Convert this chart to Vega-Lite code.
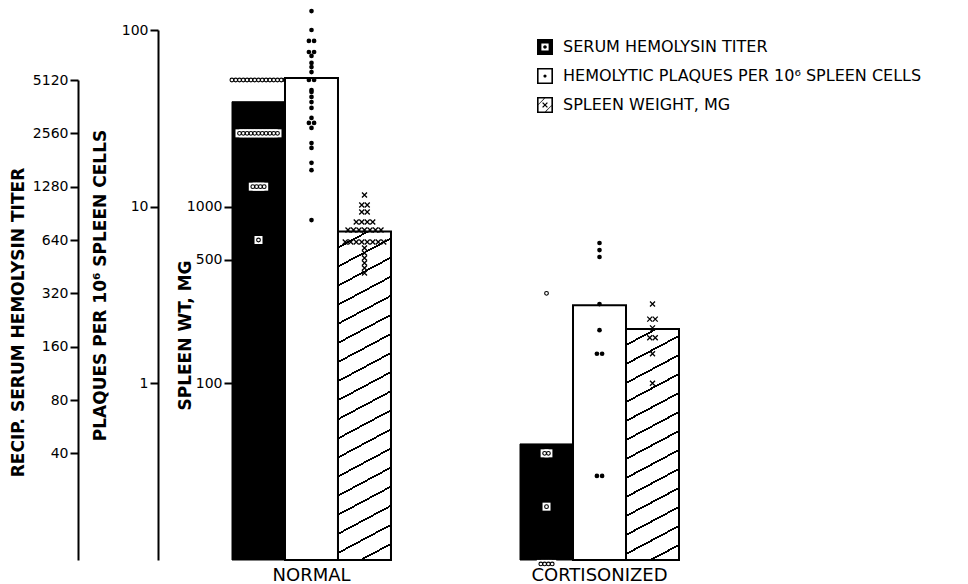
{
  "$schema": "https://vega.github.io/schema/vega-lite/v6.json",
  "width": 447,
  "height": 530,
  "autosize": {"type": "none"},
  "padding": {"left": 232, "top": 30, "right": 289, "bottom": 24},
  "background": "white",
  "config": {
    "view": {"stroke": null},
    "axis": {"grid": false, "domainColor": "black", "domainWidth": 2, "tickColor": "black", "tickWidth": 2, "labelColor": "black", "titleColor": "black", "labelFont": "DejaVu Sans", "titleFont": "DejaVu Sans", "labelFontSize": 14, "titleFontSize": 17, "titleFontWeight": "bold"},
    "legend": {"labelFont": "DejaVu Sans", "labelColor": "black"}
  },
  "datasets": {
    "means": [
      {"group": "NORMAL", "series": "SERUM HEMOLYSIN TITER", "value": 3860},
      {"group": "NORMAL", "series": "HEMOLYTIC PLAQUES PER 10⁶ SPLEEN CELLS", "value": 53.5},
      {"group": "NORMAL", "series": "SPLEEN WEIGHT, MG", "value": 724},
      {"group": "CORTISONIZED", "series": "SERUM HEMOLYSIN TITER", "value": 45.2},
      {"group": "CORTISONIZED", "series": "HEMOLYTIC PLAQUES PER 10⁶ SPLEEN CELLS", "value": 2.77},
      {"group": "CORTISONIZED", "series": "SPLEEN WEIGHT, MG", "value": 203}
    ],
    "titer_obs": [
      {"group": "NORMAL", "value": 5120}, {"group": "NORMAL", "value": 5120}, {"group": "NORMAL", "value": 5120},
      {"group": "NORMAL", "value": 5120}, {"group": "NORMAL", "value": 5120}, {"group": "NORMAL", "value": 5120},
      {"group": "NORMAL", "value": 5120}, {"group": "NORMAL", "value": 5120}, {"group": "NORMAL", "value": 5120},
      {"group": "NORMAL", "value": 5120}, {"group": "NORMAL", "value": 5120}, {"group": "NORMAL", "value": 5120},
      {"group": "NORMAL", "value": 5120}, {"group": "NORMAL", "value": 5120}, {"group": "NORMAL", "value": 5120},
      {"group": "NORMAL", "value": 2560}, {"group": "NORMAL", "value": 2560}, {"group": "NORMAL", "value": 2560},
      {"group": "NORMAL", "value": 2560}, {"group": "NORMAL", "value": 2560}, {"group": "NORMAL", "value": 2560},
      {"group": "NORMAL", "value": 2560}, {"group": "NORMAL", "value": 2560}, {"group": "NORMAL", "value": 2560},
      {"group": "NORMAL", "value": 2560}, {"group": "NORMAL", "value": 2560},
      {"group": "NORMAL", "value": 1280}, {"group": "NORMAL", "value": 1280}, {"group": "NORMAL", "value": 1280}, {"group": "NORMAL", "value": 1280},
      {"group": "NORMAL", "value": 640},
      {"group": "CORTISONIZED", "value": 320},
      {"group": "CORTISONIZED", "value": 40}, {"group": "CORTISONIZED", "value": 40},
      {"group": "CORTISONIZED", "value": 20},
      {"group": "CORTISONIZED", "value": 9.5}, {"group": "CORTISONIZED", "value": 9.5}, {"group": "CORTISONIZED", "value": 9.5}, {"group": "CORTISONIZED", "value": 9.5}
    ],
    "plaque_obs": [
      {"group": "NORMAL", "value": 128}, {"group": "NORMAL", "value": 100},
      {"group": "NORMAL", "value": 86.7}, {"group": "NORMAL", "value": 86.7},
      {"group": "NORMAL", "value": 75.1}, {"group": "NORMAL", "value": 75.1},
      {"group": "NORMAL", "value": 71.3}, {"group": "NORMAL", "value": 65.1}, {"group": "NORMAL", "value": 61.7},
      {"group": "NORMAL", "value": 57.8}, {"group": "NORMAL", "value": 52.1}, {"group": "NORMAL", "value": 52.1},
      {"group": "NORMAL", "value": 45.7}, {"group": "NORMAL", "value": 44.6}, {"group": "NORMAL", "value": 41.8},
      {"group": "NORMAL", "value": 39.1}, {"group": "NORMAL", "value": 36.2}, {"group": "NORMAL", "value": 31.8},
      {"group": "NORMAL", "value": 29.8}, {"group": "NORMAL", "value": 29.8}, {"group": "NORMAL", "value": 27.9},
      {"group": "NORMAL", "value": 22.9}, {"group": "NORMAL", "value": 21.5}, {"group": "NORMAL", "value": 17.7},
      {"group": "NORMAL", "value": 16.1}, {"group": "NORMAL", "value": 8.4},
      {"group": "CORTISONIZED", "value": 6.23}, {"group": "CORTISONIZED", "value": 5.68}, {"group": "CORTISONIZED", "value": 5.19},
      {"group": "CORTISONIZED", "value": 2.81}, {"group": "CORTISONIZED", "value": 2.0},
      {"group": "CORTISONIZED", "value": 1.47}, {"group": "CORTISONIZED", "value": 1.47},
      {"group": "CORTISONIZED", "value": 0.299}, {"group": "CORTISONIZED", "value": 0.299}
    ],
    "spleen_obs": [
      {"group": "NORMAL", "value": 1164},
      {"group": "NORMAL", "value": 1021}, {"group": "NORMAL", "value": 1021},
      {"group": "NORMAL", "value": 933}, {"group": "NORMAL", "value": 933},
      {"group": "NORMAL", "value": 819}, {"group": "NORMAL", "value": 819}, {"group": "NORMAL", "value": 819}, {"group": "NORMAL", "value": 819},
      {"group": "NORMAL", "value": 738}, {"group": "NORMAL", "value": 738}, {"group": "NORMAL", "value": 738}, {"group": "NORMAL", "value": 738},
      {"group": "NORMAL", "value": 738}, {"group": "NORMAL", "value": 738}, {"group": "NORMAL", "value": 738},
      {"group": "NORMAL", "value": 631}, {"group": "NORMAL", "value": 631}, {"group": "NORMAL", "value": 631}, {"group": "NORMAL", "value": 631},
      {"group": "NORMAL", "value": 631}, {"group": "NORMAL", "value": 631}, {"group": "NORMAL", "value": 631}, {"group": "NORMAL", "value": 631},
      {"group": "NORMAL", "value": 583}, {"group": "NORMAL", "value": 547}, {"group": "NORMAL", "value": 512},
      {"group": "NORMAL", "value": 480}, {"group": "NORMAL", "value": 450}, {"group": "NORMAL", "value": 421},
      {"group": "CORTISONIZED", "value": 281},
      {"group": "CORTISONIZED", "value": 231}, {"group": "CORTISONIZED", "value": 231},
      {"group": "CORTISONIZED", "value": 206},
      {"group": "CORTISONIZED", "value": 181}, {"group": "CORTISONIZED", "value": 181},
      {"group": "CORTISONIZED", "value": 147},
      {"group": "CORTISONIZED", "value": 100}
    ]
  },
  "layer": [
    {
      "layer": [
        {
          "data": {"name": "means"},
          "transform": [{"filter": {"field": "series", "equal": "SERUM HEMOLYSIN TITER"}}],
          "mark": {"type": "bar", "fill": "black", "stroke": "black", "strokeWidth": 1},
          "encoding": {
            "x": {"field": "group", "type": "nominal", "scale": {"domain": ["NORMAL", "CORTISONIZED"], "paddingInner": 0.448, "paddingOuter": 0},
                  "axis": {"orient": "bottom", "title": null, "domain": false, "ticks": false, "tickSize": 0, "labelPadding": 6, "labelFontSize": 18, "labelAngle": 0, "labelFontWeight": "normal"}},
            "xOffset": {"field": "series", "type": "nominal", "scale": {"domain": ["SERUM HEMOLYSIN TITER", "HEMOLYTIC PLAQUES PER 10⁶ SPLEEN CELLS", "SPLEEN WEIGHT, MG"], "paddingInner": 0, "paddingOuter": 0}},
            "y": {"field": "value", "type": "quantitative", "scale": {"type": "log", "base": 2, "domain": [10, 5120], "range": [530, 50], "nice": false},
                  "axis": {"orient": "left", "offset": 154, "values": [40, 80, 160, 320, 640, 1280, 2560, 5120], "format": "d", "tickSize": 8, "labelPadding": 2,
                           "title": "RECIP. SERUM HEMOLYSIN TITER", "titleX": -60, "titleY": 292, "titleAngle": 270, "titleBaseline": "middle", "titleAlign": "center"}},
            "y2": {"datum": 10}
          }
        },
        {
          "data": {"name": "titer_obs"},
          "transform": [
            {"window": [{"op": "count", "as": "one"}], "frame": [0, 0]},
            {"stack": "one", "groupby": ["group", "value"], "offset": "center", "as": ["s0", "s1"]}
          ],
          "encoding": {
            "x": {"field": "group", "type": "nominal", "scale": {"domain": ["NORMAL", "CORTISONIZED"], "paddingInner": 0.448, "paddingOuter": 0}},
            "xOffset": {"field": "s0", "type": "quantitative", "scale": {"domain": [0.026, 41.868], "zero": false, "nice": false}},
            "y": {"field": "value", "type": "quantitative", "scale": {"type": "log", "base": 2, "domain": [10, 5120], "range": [530, 50], "nice": false}}
          },
          "layer": [
            {"mark": {"type": "point", "shape": "square", "filled": true, "fill": "white", "strokeWidth": 0, "size": 64, "opacity": 1}},
            {"mark": {"type": "point", "shape": "circle", "filled": false, "stroke": "black", "strokeWidth": 1.1, "size": 14, "opacity": 1}}
          ]
        }
      ],
      "resolve": {"scale": {"xOffset": "independent"}}
    },
    {
      "layer": [
        {
          "data": {"name": "means"},
          "transform": [{"filter": {"field": "series", "equal": "HEMOLYTIC PLAQUES PER 10⁶ SPLEEN CELLS"}}],
          "mark": {"type": "bar", "fill": "white", "stroke": "black", "strokeWidth": 2},
          "encoding": {
            "x": {"field": "group", "type": "nominal", "scale": {"domain": ["NORMAL", "CORTISONIZED"], "paddingInner": 0.448, "paddingOuter": 0}},
            "xOffset": {"field": "series", "type": "nominal", "scale": {"domain": ["SERUM HEMOLYSIN TITER", "HEMOLYTIC PLAQUES PER 10⁶ SPLEEN CELLS", "SPLEEN WEIGHT, MG"], "paddingInner": 0, "paddingOuter": 0}},
            "y": {"field": "value", "type": "quantitative", "scale": {"type": "log", "domain": [0.1, 100], "nice": false},
                  "axis": {"orient": "left", "offset": 74, "values": [1, 10, 100], "format": "d", "tickSize": 8, "labelPadding": 2,
                           "title": "PLAQUES PER 10⁶ SPLEEN CELLS", "titleX": -58, "titleY": 255, "titleAngle": 270, "titleBaseline": "middle", "titleAlign": "center"}},
            "y2": {"datum": 0.1}
          }
        },
        {
          "data": {"name": "plaque_obs"},
          "transform": [
            {"window": [{"op": "count", "as": "one"}], "frame": [0, 0]},
            {"stack": "one", "groupby": ["group", "value"], "offset": "center", "as": ["s0", "s1"]}
          ],
          "mark": {"type": "circle", "size": 22, "color": "black", "opacity": 1},
          "encoding": {
            "x": {"field": "group", "type": "nominal", "scale": {"domain": ["NORMAL", "CORTISONIZED"], "paddingInner": 0.448, "paddingOuter": 0}},
            "xOffset": {"field": "s0", "type": "quantitative", "scale": {"domain": [-14.788, 15.789], "zero": false, "nice": false}},
            "y": {"field": "value", "type": "quantitative", "scale": {"type": "log", "domain": [0.1, 100], "nice": false}}
          }
        }
      ],
      "resolve": {"scale": {"xOffset": "independent"}}
    },
    {
      "layer": [
        {
          "data": {"name": "means"},
          "transform": [{"filter": "datum.series === 'SPLEEN WEIGHT, MG' && datum.group === 'NORMAL'"}],
          "mark": {"type": "bar", "stroke": "black", "strokeWidth": 2,
                   "fill": {"gradient": "linear", "x1": 0, "y1": 0, "x2": 0.0926, "y2": 1.0779, "stops": [
                     {"offset": 0.0423, "color": "#fff"}, {"offset": 0.0423, "color": "#000"}, {"offset": 0.0479, "color": "#000"}, {"offset": 0.0479, "color": "#fff"},
                     {"offset": 0.0958, "color": "#fff"}, {"offset": 0.0958, "color": "#000"}, {"offset": 0.1014, "color": "#000"}, {"offset": 0.1014, "color": "#fff"},
                     {"offset": 0.1493, "color": "#fff"}, {"offset": 0.1493, "color": "#000"}, {"offset": 0.1549, "color": "#000"}, {"offset": 0.1549, "color": "#fff"},
                     {"offset": 0.2028, "color": "#fff"}, {"offset": 0.2028, "color": "#000"}, {"offset": 0.2084, "color": "#000"}, {"offset": 0.2084, "color": "#fff"},
                     {"offset": 0.2563, "color": "#fff"}, {"offset": 0.2563, "color": "#000"}, {"offset": 0.2619, "color": "#000"}, {"offset": 0.2619, "color": "#fff"},
                     {"offset": 0.3099, "color": "#fff"}, {"offset": 0.3099, "color": "#000"}, {"offset": 0.3155, "color": "#000"}, {"offset": 0.3155, "color": "#fff"},
                     {"offset": 0.3634, "color": "#fff"}, {"offset": 0.3634, "color": "#000"}, {"offset": 0.3690, "color": "#000"}, {"offset": 0.3690, "color": "#fff"},
                     {"offset": 0.4169, "color": "#fff"}, {"offset": 0.4169, "color": "#000"}, {"offset": 0.4225, "color": "#000"}, {"offset": 0.4225, "color": "#fff"},
                     {"offset": 0.4704, "color": "#fff"}, {"offset": 0.4704, "color": "#000"}, {"offset": 0.4760, "color": "#000"}, {"offset": 0.4760, "color": "#fff"},
                     {"offset": 0.5239, "color": "#fff"}, {"offset": 0.5239, "color": "#000"}, {"offset": 0.5295, "color": "#000"}, {"offset": 0.5295, "color": "#fff"},
                     {"offset": 0.5774, "color": "#fff"}, {"offset": 0.5774, "color": "#000"}, {"offset": 0.5830, "color": "#000"}, {"offset": 0.5830, "color": "#fff"},
                     {"offset": 0.6309, "color": "#fff"}, {"offset": 0.6309, "color": "#000"}, {"offset": 0.6365, "color": "#000"}, {"offset": 0.6365, "color": "#fff"},
                     {"offset": 0.6844, "color": "#fff"}, {"offset": 0.6844, "color": "#000"}, {"offset": 0.6900, "color": "#000"}, {"offset": 0.6900, "color": "#fff"},
                     {"offset": 0.7379, "color": "#fff"}, {"offset": 0.7379, "color": "#000"}, {"offset": 0.7435, "color": "#000"}, {"offset": 0.7435, "color": "#fff"},
                     {"offset": 0.7914, "color": "#fff"}, {"offset": 0.7914, "color": "#000"}, {"offset": 0.7970, "color": "#000"}, {"offset": 0.7970, "color": "#fff"},
                     {"offset": 0.8450, "color": "#fff"}, {"offset": 0.8450, "color": "#000"}, {"offset": 0.8506, "color": "#000"}, {"offset": 0.8506, "color": "#fff"},
                     {"offset": 0.8985, "color": "#fff"}, {"offset": 0.8985, "color": "#000"}, {"offset": 0.9041, "color": "#000"}, {"offset": 0.9041, "color": "#fff"},
                     {"offset": 0.9520, "color": "#fff"}, {"offset": 0.9520, "color": "#000"}, {"offset": 0.9576, "color": "#000"}, {"offset": 0.9576, "color": "#fff"}
                   ]}},
          "encoding": {
            "x": {"field": "group", "type": "nominal", "scale": {"domain": ["NORMAL", "CORTISONIZED"], "paddingInner": 0.448, "paddingOuter": 0}},
            "xOffset": {"field": "series", "type": "nominal", "scale": {"domain": ["SERUM HEMOLYSIN TITER", "HEMOLYTIC PLAQUES PER 10⁶ SPLEEN CELLS", "SPLEEN WEIGHT, MG"], "paddingInner": 0, "paddingOuter": 0}},
            "y": {"field": "value", "type": "quantitative", "scale": {"type": "log", "domain": [10, 10000], "nice": false},
                  "axis": {"orient": "left", "offset": 0, "values": [100, 500, 1000], "format": "d", "domain": false, "tickSize": 8, "labelPadding": 2,
                           "title": "SPLEEN WT, MG", "titleX": -47, "titleY": 305, "titleAngle": 270, "titleBaseline": "middle", "titleAlign": "center"}},
            "y2": {"datum": 10}
          }
        },
        {
          "data": {"name": "means"},
          "transform": [{"filter": "datum.series === 'SPLEEN WEIGHT, MG' && datum.group === 'CORTISONIZED'"}],
          "mark": {"type": "bar", "stroke": "black", "strokeWidth": 2,
                   "fill": {"gradient": "linear", "x1": 0, "y1": 0, "x2": 0.1344, "y2": 1.1053, "stops": [
                     {"offset": 0.0579, "color": "#fff"}, {"offset": 0.0579, "color": "#000"}, {"offset": 0.0657, "color": "#000"}, {"offset": 0.0657, "color": "#fff"},
                     {"offset": 0.1312, "color": "#fff"}, {"offset": 0.1312, "color": "#000"}, {"offset": 0.1390, "color": "#000"}, {"offset": 0.1390, "color": "#fff"},
                     {"offset": 0.2046, "color": "#fff"}, {"offset": 0.2046, "color": "#000"}, {"offset": 0.2124, "color": "#000"}, {"offset": 0.2124, "color": "#fff"},
                     {"offset": 0.2779, "color": "#fff"}, {"offset": 0.2779, "color": "#000"}, {"offset": 0.2857, "color": "#000"}, {"offset": 0.2857, "color": "#fff"},
                     {"offset": 0.3512, "color": "#fff"}, {"offset": 0.3512, "color": "#000"}, {"offset": 0.3590, "color": "#000"}, {"offset": 0.3590, "color": "#fff"},
                     {"offset": 0.4246, "color": "#fff"}, {"offset": 0.4246, "color": "#000"}, {"offset": 0.4324, "color": "#000"}, {"offset": 0.4324, "color": "#fff"},
                     {"offset": 0.4979, "color": "#fff"}, {"offset": 0.4979, "color": "#000"}, {"offset": 0.5057, "color": "#000"}, {"offset": 0.5057, "color": "#fff"},
                     {"offset": 0.5712, "color": "#fff"}, {"offset": 0.5712, "color": "#000"}, {"offset": 0.5790, "color": "#000"}, {"offset": 0.5790, "color": "#fff"},
                     {"offset": 0.6445, "color": "#fff"}, {"offset": 0.6445, "color": "#000"}, {"offset": 0.6523, "color": "#000"}, {"offset": 0.6523, "color": "#fff"},
                     {"offset": 0.7179, "color": "#fff"}, {"offset": 0.7179, "color": "#000"}, {"offset": 0.7257, "color": "#000"}, {"offset": 0.7257, "color": "#fff"},
                     {"offset": 0.7912, "color": "#fff"}, {"offset": 0.7912, "color": "#000"}, {"offset": 0.7990, "color": "#000"}, {"offset": 0.7990, "color": "#fff"},
                     {"offset": 0.8645, "color": "#fff"}, {"offset": 0.8645, "color": "#000"}, {"offset": 0.8723, "color": "#000"}, {"offset": 0.8723, "color": "#fff"},
                     {"offset": 0.9379, "color": "#fff"}, {"offset": 0.9379, "color": "#000"}, {"offset": 0.9457, "color": "#000"}, {"offset": 0.9457, "color": "#fff"}
                   ]}},
          "encoding": {
            "x": {"field": "group", "type": "nominal", "scale": {"domain": ["NORMAL", "CORTISONIZED"], "paddingInner": 0.448, "paddingOuter": 0}},
            "xOffset": {"field": "series", "type": "nominal", "scale": {"domain": ["SERUM HEMOLYSIN TITER", "HEMOLYTIC PLAQUES PER 10⁶ SPLEEN CELLS", "SPLEEN WEIGHT, MG"], "paddingInner": 0, "paddingOuter": 0}},
            "y": {"field": "value", "type": "quantitative", "scale": {"type": "log", "domain": [10, 10000], "nice": false}},
            "y2": {"datum": 10}
          }
        },
        {
          "data": {"name": "spleen_obs"},
          "transform": [
            {"window": [{"op": "count", "as": "one"}], "frame": [0, 0]},
            {"stack": "one", "groupby": ["group", "value"], "offset": "center", "as": ["s0", "s1"]}
          ],
          "mark": {"type": "point", "shape": "M-1,-1L1,1M-1,1L1,-1", "filled": false, "stroke": "black", "strokeWidth": 1.3, "size": 25, "opacity": 1},
          "encoding": {
            "x": {"field": "group", "type": "nominal", "scale": {"domain": ["NORMAL", "CORTISONIZED"], "paddingInner": 0.448, "paddingOuter": 0}},
            "xOffset": {"field": "s0", "type": "quantitative", "scale": {"domain": [-20.591, 8.318], "zero": false, "nice": false}},
            "y": {"field": "value", "type": "quantitative", "scale": {"type": "log", "domain": [10, 10000], "nice": false}}
          }
        }
      ],
      "resolve": {"scale": {"xOffset": "independent"}}
    },
    {
      "data": {"values": []},
      "mark": {"type": "point", "filled": true, "fill": "black", "strokeWidth": 0, "opacity": 1, "size": 256},
      "encoding": {
        "shape": {"field": "series", "type": "nominal",
                  "scale": {"domain": ["SERUM HEMOLYSIN TITER", "HEMOLYTIC PLAQUES PER 10⁶ SPLEEN CELLS", "SPLEEN WEIGHT, MG"],
                            "range": ["M-1,-1H1V1H-1Z M-0.45,-0.45V0.45H0.45V-0.45Z M0.22,0A0.22,0.22,0,1,1,-0.22,0A0.22,0.22,0,1,1,0.22,0Z",
                                      "M-1,-1H1V1H-1Z M-0.8,-0.8V0.8H0.8V-0.8Z M0.2,0A0.2,0.2,0,1,1,-0.2,0A0.2,0.2,0,1,1,0.2,0Z",
                                      "M-1,-1H1V1H-1Z M-0.8,-0.8V0.8H0.8V-0.8Z M-0.8,-0.14L-0.14,-0.8L-0.02,-0.8L-0.8,-0.02Z M0.8,0.14L0.14,0.8L0.02,0.8L0.8,0.02Z M-0.243,-0.357L0.357,0.243L0.243,0.357L-0.357,-0.243Z M0.357,-0.243L-0.243,0.357L-0.357,0.243L0.243,-0.357Z"]},
                  "legend": {"orient": "none", "legendX": 305, "legendY": 9, "title": null, "symbolSize": 256, "symbolFillColor": "black", "symbolStrokeWidth": 0, "labelFontSize": 16, "labelOffset": 10, "rowPadding": 13, "padding": 0, "labelLimit": 600}}
      }
    }
  ],
  "resolve": {"scale": {"y": "independent", "xOffset": "independent"}}
}
